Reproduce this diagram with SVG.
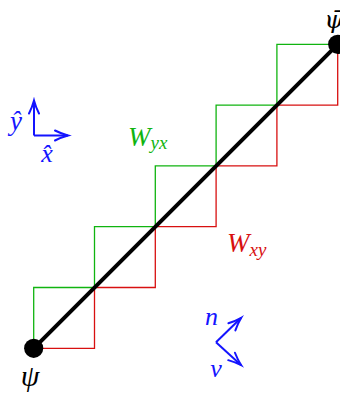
<svg xmlns="http://www.w3.org/2000/svg" width="340" height="399" viewBox="0 0 340 399">
<style>
.lbl{font-family:"Liberation Serif","DejaVu Serif",serif;font-style:italic}
.blue{fill:#1414ff}
.ax{stroke:#1414ff;stroke-width:2;fill:none}
.grn{stroke:#10b410;stroke-width:1.3;fill:none}
.red{stroke:#d81010;stroke-width:1.3;fill:none}
</style>
<defs>
<marker id="ah" viewBox="-16 -8 20 16" refX="0" refY="0" markerWidth="20" markerHeight="16" markerUnits="userSpaceOnUse" orient="auto">
<path d="M-13 -5 C-8 -2.5 -3 -0.8 0 0 C-3 0.8 -8 2.5 -13 5" stroke="#1414ff" stroke-width="2" fill="none" stroke-linecap="round"/>
</marker>
</defs>
<g id="connectors">
<path id="path-yx" class="grn" d="M33.7 348.3 V287.5 H94.5 V226.7 H155.3 V165.9 H216.1 V105.1 H276.9 V44.3 H337.7"/>
<path id="path-xy" class="red" d="M33.7 348.3 H94.5 V287.5 H155.3 V226.7 H216.1 V165.9 H276.9 V105.1 H337.7 V44.3"/>
<line id="diag" x1="33.7" y1="348.3" x2="337.7" y2="44.3" stroke="#000" stroke-width="4"/>
<line class="ax" x1="34" y1="135.5" x2="34" y2="100.5" marker-end="url(#ah)"/>
<line class="ax" x1="34" y1="135.5" x2="68" y2="135.5" marker-end="url(#ah)"/>
<line class="ax" x1="216" y1="342.3" x2="241.2" y2="317.8" marker-end="url(#ah)"/>
<line class="ax" x1="216" y1="342.3" x2="241.2" y2="365.2" marker-end="url(#ah)"/>
</g>
<g id="node-psi">
<circle cx="33.7" cy="348.3" r="9.6" fill="#000"/>
<text class="lbl" x="30" y="386" font-size="30" text-anchor="middle">ψ</text>
</g>
<g id="node-psibar">
<circle cx="337.7" cy="44.3" r="9.6" fill="#000"/>
<text x="334" y="28" font-size="25" font-family="DejaVu Serif" font-style="italic" text-anchor="middle">ψ̄</text>
</g>
<g id="label-yx">
<text class="lbl" x="128" y="145.7" font-size="27" fill="#10b410">W<tspan font-size="19" dy="3.5">yx</tspan></text>
</g>
<g id="label-xy">
<text class="lbl" x="227" y="251.7" font-size="27" fill="#d81010">W<tspan font-size="19" dy="4.5">xy</tspan></text>
</g>
<g id="axes-labels">
<text class="lbl blue" x="16" y="130" font-size="27" text-anchor="middle">ŷ</text>
<text class="lbl blue" x="47" y="162" font-size="26" text-anchor="middle">x̂</text>
<text class="lbl blue" x="211.5" y="325" font-size="26" text-anchor="middle">n</text>
<text class="lbl blue" x="216" y="377" font-size="26" text-anchor="middle">v</text>
</g>
</svg>
